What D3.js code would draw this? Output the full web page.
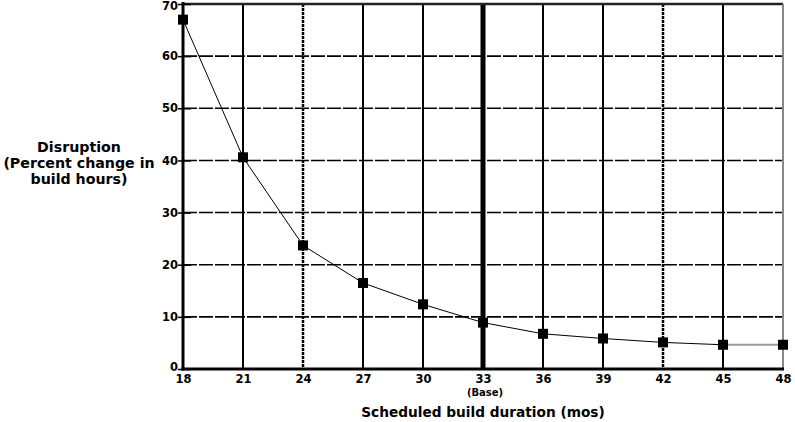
<!DOCTYPE html>
<html><head><meta charset="utf-8">
<script src="https://cdn.jsdelivr.net/npm/d3@7"></script>
<style>body{margin:0;background:#fff}svg{display:block}text{font-family:"DejaVu Sans",Arial,sans-serif;font-weight:bold;fill:#000}</style>
</head><body><svg id="c" width="795" height="422"></svg>
<script>
const durations = [18,21,24,27,30,33,36,39,42,45,48];
const disruption = [67,40.6,23.7,16.5,12.4,8.9,6.75,5.85,5.1,4.65,4.65];
const yTicks = [0,10,20,30,40,50,60,70];
const xTicks = [18,21,24,27,30,33,36,39,42,45,48];
const solidX = [21,27,30,36,39,45];
const dottedX = [24,42];
const baseX = 33;

const svg = d3.select("#c");
const x = d3.scaleLinear().domain([18,48]).range([183,783]);
const y = d3.scaleLinear().domain([0,70]).range([369,4]);
const FF = "DejaVu Sans, Arial, sans-serif";

// horizontal gridlines (dashed)
svg.append("g").selectAll("line").data(yTicks.filter(d=>d>0 && d<70)).join("line")
  .attr("x1",x(18)).attr("x2",x(48)).attr("y1",d=>y(d)).attr("y2",d=>y(d))
  .attr("stroke","#000").attr("stroke-width",1.6).attr("stroke-dasharray","14,2");
// vertical solid lines
svg.append("g").selectAll("line").data(solidX).join("line")
  .attr("x1",d=>x(d)).attr("x2",d=>x(d)).attr("y1",y(70)).attr("y2",y(0))
  .attr("stroke","#000").attr("stroke-width",2);
// vertical dotted
svg.append("g").selectAll("line").data(dottedX).join("line")
  .attr("x1",d=>x(d)).attr("x2",d=>x(d)).attr("y1",y(70)).attr("y2",y(0))
  .attr("stroke","#000").attr("stroke-width",2.5).attr("stroke-dasharray","3,1");
// base line
svg.append("line").attr("x1",x(baseX)).attr("x2",x(baseX)).attr("y1",y(70)).attr("y2",y(0))
  .attr("stroke","#000").attr("stroke-width",5);
// top & right border
svg.append("line").attr("x1",x(18)).attr("x2",x(48)).attr("y1",y(70)).attr("y2",y(70))
  .attr("stroke","#222").attr("stroke-width",2.5);
svg.append("line").attr("x1",x(48)).attr("x2",x(48)).attr("y1",y(70)).attr("y2",y(0))
  .attr("stroke","#888").attr("stroke-width",2);
// axes
svg.append("line").attr("x1",x(18)).attr("x2",x(18)).attr("y1",y(70)-2).attr("y2",y(0)+1.5)
  .attr("stroke","#000").attr("stroke-width",3);
svg.append("line").attr("x1",x(18)-1.5).attr("x2",x(48)+1).attr("y1",y(0)).attr("y2",y(0))
  .attr("stroke","#000").attr("stroke-width",3);

// y ticks
const yAxis = d3.axisLeft(y).tickValues(yTicks).tickSize(-8).tickPadding(2).tickFormat(d3.format("d"));
const gy = svg.append("g").attr("transform",`translate(${x(18)-5},0)`).call(yAxis);
gy.select(".domain").remove();
gy.selectAll(".tick line").attr("stroke","#000").attr("stroke-width",1.5).attr("x2",13);
gy.selectAll("text").attr("font-size",11.5).attr("x",0).style("font-family",FF).style("font-weight","bold");
gy.selectAll(".tick").filter(d=>d===70).select("text").attr("dy","0.5em");
gy.selectAll(".tick").filter(d=>d===0).select("text").attr("dy","0.15em");
// x ticks
const xAxis = d3.axisBottom(x).tickValues(xTicks).tickSize(0).tickPadding(6).tickFormat(d3.format("d"));
const gx = svg.append("g").attr("transform",`translate(0,${y(0)})`).call(xAxis);
gx.select(".domain").remove();
gx.selectAll("text").attr("font-size",11.5).style("font-family",FF).style("font-weight","bold");

svg.append("text").attr("x",x(baseX)+2).attr("y",396).attr("text-anchor","middle").attr("font-size",10).text("(Base)");

// curve
const pts = durations.map((d,i)=>[d,disruption[i]]);
const line = d3.line().x(d=>x(d[0])).y(d=>y(d[1]));
svg.append("path").datum(pts.slice(0,10)).attr("d",line).attr("fill","none").attr("stroke","#000").attr("stroke-width",1);
svg.append("path").datum(pts.slice(9)).attr("d",line).attr("fill","none").attr("stroke","#999").attr("stroke-width",2);
svg.append("g").selectAll("rect").data(pts).join("rect")
  .attr("x",d=>x(d[0])-5).attr("y",d=>y(d[1])-5).attr("width",10).attr("height",10).attr("fill","#000");

// titles
svg.append("text").attr("x",483).attr("y",417).attr("text-anchor","middle").attr("font-size",13.7).text("Scheduled build duration (mos)");
const yt = svg.append("text").attr("x",79).attr("text-anchor","middle").attr("font-size",14.2);
["Disruption","(Percent change in","build hours)"].forEach((t,i)=>yt.append("tspan").attr("x",79).attr("y",152+i*16).text(t));
</script></body></html>
